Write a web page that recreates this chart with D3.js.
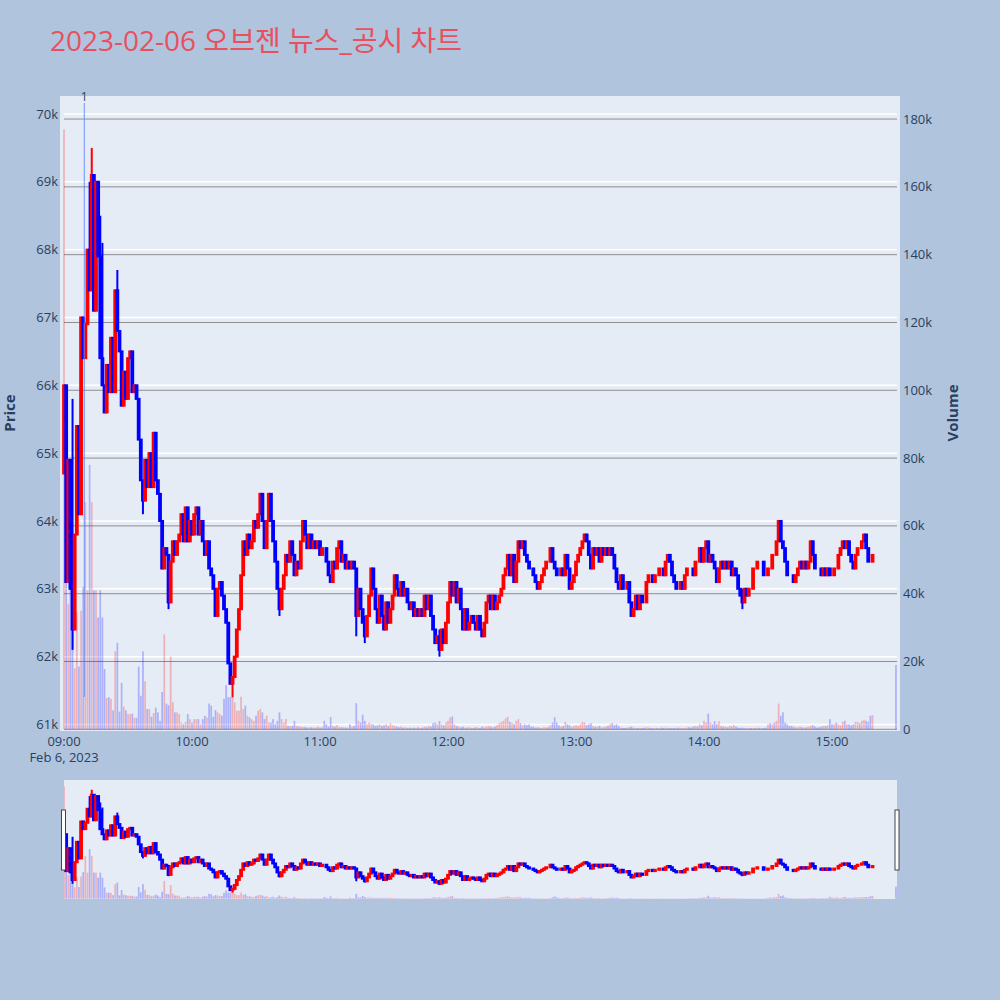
<!DOCTYPE html>
<html>
<head>
<meta charset="utf-8">
<script src="https://cdn.jsdelivr.net/npm/d3@7"></script>
<style>
  body { margin: 0; background: #b0c4de; }
  svg { display: block; font-family: "Open Sans", "Noto Sans CJK KR", sans-serif; }
</style>
</head>
<body>
<svg id="svg" width="1000" height="1000"></svg>
<script>
// closing price per minute (in units of 100 won), 09:00..15:19, then the 15:30 auction
const closeX100 = [
  660,631,649,630,624,638,654,641,670,664, 669,680,674,691,671,690,679,664,660,656,
  663,659,667,659,674,668,665,657,662,658, 664,665,659,660,658,652,646,643,649,645,
  650,645,653,646,644,640,633,636,635,628, 634,637,635,637,638,641,637,642,637,640,
  638,641,642,638,640,637,635,637,633,632, 630,626,630,631,629,627,625,619,616,617,
  620,624,627,632,637,635,638,636,637,640, 639,641,644,640,636,640,644,640,637,634,
  630,627,630,632,635,634,637,635,632,634, 633,637,640,638,636,638,636,637,636,637,
  635,636,636,634,632,631,634,633,636,637, 634,635,633,634,633,634,633,626,630,627,
  625,623,626,629,633,630,627,625,629,626, 624,628,625,627,629,632,630,629,631,629,
  630,628,627,628,626,627,626,627,626,629, 627,629,626,624,622,623,621,624,622,625,
  628,631,629,631,628,630,627,624,627,624, 625,626,625,624,626,624,623,625,628,629,
  627,629,627,628,629,630,632,633,635,632, 635,631,634,637,636,637,635,634,633,633,
  632,631,630,631,632,633,634,634,636,634, 633,632,632,633,632,635,633,630,631,632,
  634,635,636,637,638,637,635,633,636,635, 636,634,636,635,636,635,636,635,633,631,
  630,632,630,630,631,628,626,627,629,627, 629,628,628,631,632,632,631,632,632,633,
  633,632,634,635,634,632,631,630,630,631, 630,632,633,633,633,632,634,634,636,634,
  636,637,634,635,634,633,631,633,634,633, 634,633,634,632,633,632,630,629,628,630,
  629,630,630,633,633,634,634,634,632,632, 633,633,635,635,637,640,637,636,634,632,
  632,632,631,632,633,634,633,634,633,634, 637,635,633,633,633,632,633,632,633,632,
  632,633,633,635,636,637,636,637,635,634, 633,635,636,636,637,638,636,634,634,635,
  634
];
const firstOpen = 64700;

// volume per minute (thousand shares)
const volumeK = [
  177,89,37,75,39,18,34.5,18.5,35,42, 67,41,78,67,41,41,33,41,33,17.8,
  9.2,9.5,9,5.6,23,25.5,5.2,13.7,6.7,5.6, 4.5,4.5,4.6,3.4,3.4,18.5,9.9,23,14.2,6,
  6,3.7,4.8,6.4,5,2.5,11,28,7.6,7.1, 21.5,8,5,5,4.5,2,1.5,2.2,4.5,3,
  2,3,3,3,1.5,3,4,3.5,7.6,7, 3.7,5.7,5,4.5,4,9,13,9.5,9.5,9.5,
  8,5.5,5.5,9.6,6,7,4,3.5,3,2.5, 4,5.5,6,5,3,4,2,2,3,1.5,
  2.5,5,3,2,3,1,1,1,2.5,1, 0.8,0.8,0.7,0.7,0.5,0.6,0.6,0.5,0.5,0.8,
  0.5,0.6,2.5,1.5,0.8,3.6,1,0.8,1.2,0.6, 0.6,0.6,0.5,0.5,1.5,0.8,1,7.7,2.5,2,
  4.3,2.5,1.5,2,1.5,1.5,1,1.2,1.5,1, 1.2,1.5,1,1.8,1.2,1,0.8,0.6,0.8,0.5,
  0.6,0.4,0.5,0.4,0.5,0.4,0.6,0.4,0.5,0.8, 0.6,1,0.8,1.8,2,1.5,2.4,1.5,1.2,2,
  2.5,3.5,3.8,1.5,1,0.8,0.6,0.8,0.5,0.5, 0.6,0.4,0.4,0.6,0.5,0.4,0.8,0.6,0.8,1,
  0.8,0.6,0.8,1.2,1.8,2.2,2.5,3.2,3.7,2.2, 1.8,1.5,2.5,3,1.8,1.2,1.5,1.2,1.5,0.8,
  0.8,0.5,0.6,0.5,0.4,0.6,0.5,0.6,1.2,2, 3.5,2,1.2,0.8,1,2.2,1.5,1.2,0.8,1,
  1.2,1,1.5,2.2,2,1.2,1.5,1.8,1,0.8, 0.8,1,0.6,0.6,0.8,1,1.5,1.8,1.2,1.5,
  1,0.5,0.4,0.4,0.5,0.6,0.8,0.5,0.4,0.4, 0.3,0.4,0.4,0.6,0.5,0.4,0.3,0.3,0.4,0.3,
  0.5,0.4,0.5,0.4,0.4,0.3,0.4,0.3,0.5,0.4, 0.3,0.4,0.5,0.6,0.5,0.8,1,0.8,1.5,1.2,
  2.5,2,4.6,2,1.5,2.4,1.5,2.4,1,0.8, 0.8,0.6,1,0.8,1.2,0.8,0.5,0.4,0.5,0.4,
  0.3,0.4,0.4,0.3,0.4,0.5,0.4,0.3,0.4,0.5, 1.5,1.8,1.5,2,2.5,7.6,4,5,2,1.5,
  1,1,0.8,0.6,0.6,0.8,0.6,0.5,0.6,0.8, 1,1.2,0.8,0.5,0.6,0.8,1,1,1.2,3,
  1.5,1.5,2,1.5,1.2,2.2,2.5,1.5,1.5,1.2, 1.5,2.2,2.2,1.8,2.5,2.8,2.5,2.2,4,4.2,
  19
];

// minutes that show a visible wick, with their high / low (100 won)
const wickMinute = [4, 12, 13, 17, 18, 25, 37, 49, 79, 101, 137, 141, 176, 318];
const wickHigh   = [658, 690, 695, 685, 681, 677, 646, 635, 617, 630, 633, 626, 624, 630];
const wickLow    = [621, 674, 674, 664, 660, 668, 641, 627, 614, 626, 623, 622, 620, 627];

const newsTimes = ['09:09:30'];
const newsLabels = ['1'];
const priceTicks = d3.range(61000, 70001, 1000);
const volumeTicks = d3.range(0, 180001, 20000);

const n = closeX100.length;
const times = closeX100.map((_, i) => i < n - 1 ? new Date(2023, 1, 6, 9, i) : new Date(2023, 1, 6, 15, 30));
const candles = closeX100.map((c, i) => {
  const close = c * 100;
  const open = i === 0 ? firstOpen : (i === n - 1 ? close : closeX100[i - 1] * 100);
  let high = Math.max(open, close), low = Math.min(open, close);
  const w = wickMinute.indexOf(i);
  if (w >= 0) { high = Math.max(high, wickHigh[w] * 100); low = Math.min(low, wickLow[w] * 100); }
  return { t: times[i], o: open, c: close, h: high, l: low, v: volumeK[i] * 1000 };
});

const svg = d3.select('#svg');
const m = { left: 60, right: 900, top: 96, bottom: 731 };
const INC = '#ff0000', DEC = '#0000ff';

const x = d3.scaleTime()
  .domain([new Date(2023, 1, 6, 8, 58, 7), new Date(2023, 1, 6, 15, 31, 53)])
  .range([m.left, m.right]);
const y = d3.scaleLinear().domain([60904, 70265]).range([m.bottom, m.top]);
const yv = d3.scaleLinear().domain([-500, 186800]).range([m.bottom, m.top]);
const sl = { top: 780, bottom: 899, left: 64, right: 897 };
const ys = y.copy().range([sl.bottom, sl.top]);
const yvs = yv.copy().range([sl.bottom, sl.top]);

// title
svg.append('text').attr('x', 50).attr('y', 51)
  .attr('fill', '#e9505d').attr('font-size', 28)
  .text('2023-02-06 오브젠 뉴스_공시 차트');

// plot background + grid
svg.append('rect').attr('x', m.left).attr('y', m.top)
  .attr('width', m.right - m.left).attr('height', m.bottom - m.top).attr('fill', '#e5ecf6');

const grid = svg.append('g');
grid.selectAll('line.pg').data(priceTicks).join('line').attr('class', 'pg')
  .attr('x1', 64).attr('x2', 897).attr('y1', d => y(d)).attr('y2', d => y(d))
  .attr('stroke', '#fff').attr('stroke-width', 1.5);
grid.selectAll('line.vg').data(volumeTicks).join('line').attr('class', 'vg')
  .attr('x1', 64).attr('x2', 897).attr('y1', d => yv(d)).attr('y2', d => yv(d))
  .attr('stroke', '#8e8e8e').attr('stroke-width', 1);

svg.append('clipPath').attr('id', 'clipMain').append('rect')
  .attr('x', m.left).attr('y', m.top).attr('width', m.right - m.left).attr('height', m.bottom - m.top);
svg.append('clipPath').attr('id', 'clipSl').append('rect')
  .attr('x', sl.left).attr('y', sl.top).attr('width', sl.right - sl.left).attr('height', sl.bottom - sl.top);

function drawSeries(g, py, vy) {
  g.selectAll('rect.vol').data(candles).join('rect').attr('class', 'vol')
    .attr('x', d => x(d.t) - 0.85).attr('width', 1.7)
    .attr('y', d => vy(d.v)).attr('height', d => Math.max(0, vy(0) - vy(d.v)))
    .attr('fill', d => d.c > d.o ? 'rgba(255,0,0,0.25)' : 'rgba(0,0,255,0.25)');
  g.selectAll('line.wick').data(candles).join('line').attr('class', 'wick')
    .attr('x1', d => x(d.t)).attr('x2', d => x(d.t))
    .attr('y1', d => py(d.h)).attr('y2', d => py(d.l))
    .attr('stroke', d => d.c > d.o ? INC : DEC).attr('stroke-width', 2);
  g.selectAll('rect.body').data(candles).join('rect').attr('class', 'body')
    .attr('x', d => x(d.t) - 0.9).attr('width', 1.8)
    .attr('y', d => py(Math.max(d.o, d.c)))
    .attr('height', d => Math.abs(py(d.o) - py(d.c)))
    .attr('fill', d => d.c > d.o ? INC : DEC)
    .attr('stroke', d => d.c > d.o ? INC : DEC).attr('stroke-width', 2);
}

drawSeries(svg.append('g').attr('clip-path', 'url(#clipMain)'), y, yv);

// news marker
const parseT = d3.timeParse('%Y-%m-%d %H:%M:%S');
const news = svg.append('g');
news.selectAll('line').data(newsTimes).join('line')
  .attr('x1', d => x(parseT('2023-02-06 ' + d))).attr('x2', d => x(parseT('2023-02-06 ' + d)))
  .attr('y1', 103).attr('y2', 697)
  .attr('stroke', 'rgba(90,130,250,0.85)').attr('stroke-width', 1);
news.selectAll('text').data(newsTimes).join('text')
  .attr('x', d => x(parseT('2023-02-06 ' + d))).attr('y', 101)
  .attr('text-anchor', 'middle').attr('font-size', 12).attr('fill', '#2a3f5f')
  .text((d, i) => newsLabels[i]);

// axes
const axisCol = '#2a3f5f';
const fmtK = d => d === 0 ? '0' : (d / 1000) + 'k';
svg.append('g').selectAll('text').data(priceTicks).join('text')
  .attr('x', 58).attr('y', d => y(d)).attr('dy', '0.35em').attr('text-anchor', 'end')
  .attr('font-size', 13).attr('fill', axisCol).text(fmtK);
svg.append('g').selectAll('text').data(volumeTicks).join('text')
  .attr('x', 903).attr('y', d => yv(d)).attr('dy', '0.35em').attr('text-anchor', 'start')
  .attr('font-size', 13).attr('fill', axisCol).text(fmtK);

const hourTicks = d3.timeHour.range(new Date(2023, 1, 6, 9), new Date(2023, 1, 6, 15, 1));
svg.append('g').selectAll('text').data(hourTicks).join('text')
  .attr('x', d => x(d)).attr('y', 746).attr('text-anchor', 'middle')
  .attr('font-size', 13).attr('fill', axisCol).text(d3.timeFormat('%H:%M'));
svg.append('text').attr('x', x(hourTicks[0])).attr('y', 762).attr('text-anchor', 'middle')
  .attr('font-size', 13).attr('fill', axisCol).text('Feb 6, 2023');

svg.append('text').attr('transform', 'translate(15,413) rotate(-90)')
  .attr('text-anchor', 'middle').attr('font-size', 15).attr('font-weight', 'bold')
  .attr('fill', axisCol).text('Price');
svg.append('text').attr('transform', 'translate(958,413) rotate(-90)')
  .attr('text-anchor', 'middle').attr('font-size', 15).attr('font-weight', 'bold')
  .attr('fill', axisCol).text('Volume');

// range slider
svg.append('rect').attr('x', sl.left).attr('y', sl.top)
  .attr('width', sl.right - sl.left).attr('height', sl.bottom - sl.top).attr('fill', '#e5ecf6');
drawSeries(svg.append('g').attr('clip-path', 'url(#clipSl)'), ys, yvs);
[sl.left - 2.5, sl.right - 2].forEach(hx => {
  svg.append('rect').attr('x', hx).attr('y', 810).attr('width', 4).attr('height', 60)
    .attr('fill', '#fff').attr('stroke', '#444').attr('stroke-width', 1);
});
</script>
</body>
</html>
